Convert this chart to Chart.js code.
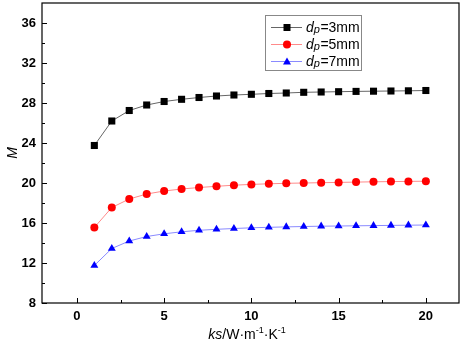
<!DOCTYPE html>
<html>
<head>
<meta charset="utf-8">
<script src="https://cdn.jsdelivr.net/npm/chart.js@4"></script>
<style>
  html, body { margin: 0; padding: 0; background: #fff; }
  #wrap { width: 462px; height: 345px; }
</style>
</head>
<body>
<div id="wrap"><canvas id="chart" width="462" height="345"></canvas></div>
<script>
// --- data ---
const ks = [1,2,3,4,5,6,7,8,9,10,11,12,13,14,15,16,17,18,19,20];
const m3 = [23.75,26.2,27.25,27.8,28.15,28.37,28.55,28.7,28.8,28.87,28.95,29.0,29.07,29.1,29.13,29.16,29.18,29.2,29.22,29.25];
const m5 = [15.55,17.55,18.4,18.9,19.2,19.4,19.55,19.67,19.78,19.86,19.92,19.97,20.0,20.03,20.06,20.09,20.12,20.14,20.16,20.18];
const m7 = [11.75,13.45,14.2,14.65,14.92,15.12,15.27,15.37,15.45,15.52,15.57,15.61,15.65,15.68,15.7,15.72,15.74,15.76,15.78,15.8];
const labels = ["3mm","5mm","7mm"];
const xTicks = [0,5,10,15,20];
const xMinor = [2.5,7.5,12.5,17.5];
const yTicks = [8,12,16,20,24,28,32,36];
const yMinor = [10,14,18,22,26,30,34];

const FONT = '"Liberation Sans", Arial, sans-serif';

function pts(arr){ return ks.map((k,i)=>({x:k, y:arr[i]})); }

// --- frame, inward ticks, titles, legend ---
const decor = {
  id: "decor",
  afterDraw(chart){
    const ctx = chart.ctx, a = chart.chartArea;
    const xs = chart.scales.x, ys = chart.scales.y;
    ctx.save();
    ctx.strokeStyle = "#000";
    ctx.lineWidth = 1.2;
    ctx.strokeRect(a.left, a.top, a.right-a.left, a.bottom-a.top);

    ctx.lineWidth = 1;
    ctx.beginPath();
    xTicks.forEach(v=>{ const p = Math.round(xs.getPixelForValue(v))+0.5; ctx.moveTo(p,a.bottom); ctx.lineTo(p,a.bottom-5); });
    xMinor.forEach(v=>{ const p = Math.round(xs.getPixelForValue(v))+0.5; ctx.moveTo(p,a.bottom); ctx.lineTo(p,a.bottom-3); });
    yTicks.forEach(v=>{ const p = Math.round(ys.getPixelForValue(v))+0.5; ctx.moveTo(a.left,p); ctx.lineTo(a.left+5,p); });
    yMinor.forEach(v=>{ const p = Math.round(ys.getPixelForValue(v))+0.5; ctx.moveTo(a.left,p); ctx.lineTo(a.left+3,p); });
    ctx.stroke();

    // y title
    ctx.fillStyle = "#000";
    ctx.save();
    ctx.translate(17, (a.top+a.bottom)/2);
    ctx.rotate(-Math.PI/2);
    ctx.font = "italic 14px " + FONT;
    ctx.textAlign = "center";
    ctx.textBaseline = "alphabetic";
    ctx.fillText("M", 0, 0);
    ctx.restore();

    // x title: ks/W·m-1·K-1
    const parts = [
      {t:"ks", f:"italic 14px "+FONT, dy:0},
      {t:"/W\u00B7m", f:"14px "+FONT, dy:0},
      {t:"-1", f:"9px "+FONT, dy:-6},
      {t:"\u00B7K", f:"14px "+FONT, dy:0},
      {t:"-1", f:"9px "+FONT, dy:-6}
    ];
    let w = 0;
    parts.forEach(p=>{ ctx.font = p.f; p.w = ctx.measureText(p.t).width; w += p.w; });
    let x = 247 - w/2;
    ctx.textAlign = "left";
    parts.forEach(p=>{ ctx.font = p.f; ctx.fillText(p.t, x, 339+p.dy); x += p.w; });

    // legend
    ctx.strokeStyle = "#888";
    ctx.lineWidth = 1;
    ctx.strokeRect(265.5, 15.5, 96, 55);
    const rows = [27, 44, 61];
    chart.data.datasets.forEach((ds,i)=>{
      const y = rows[i];
      ctx.strokeStyle = ds.borderColor;
      ctx.beginPath(); ctx.moveTo(271,y+0.5); ctx.lineTo(302,y+0.5); ctx.stroke();
      ctx.fillStyle = ds.pointBackgroundColor;
      ctx.beginPath();
      if(ds.pointStyle==="rect") ctx.rect(283.5,y-3,7,7);
      else if(ds.pointStyle==="circle") ctx.arc(287,y+0.5,4,0,Math.PI*2);
      else { ctx.moveTo(287,y-3.5); ctx.lineTo(291,y+3.5); ctx.lineTo(283,y+3.5); ctx.closePath(); }
      ctx.fill();
      ctx.fillStyle = "#000";
      let tx = 306;
      ctx.font = "italic 14px "+FONT; ctx.fillText("d", tx, y+5); tx += ctx.measureText("d").width;
      ctx.font = "italic 11px "+FONT; ctx.fillText("p", tx, y+6); tx += ctx.measureText("p").width + 0.5;
      ctx.font = "14px "+FONT; ctx.fillText("=" + labels[i], tx, y+5);
    });
    ctx.restore();
  }
};

new Chart(document.getElementById("chart"), {
  type: "line",
  data: {
    datasets: [
      {label:"dp=3mm", data:pts(m3), borderColor:"#666", borderWidth:1, pointStyle:"rect", pointRadius:5,
       pointBackgroundColor:"#000", pointBorderColor:"#000", pointBorderWidth:0},
      {label:"dp=5mm", data:pts(m5), borderColor:"#ff8a8a", borderWidth:1, pointStyle:"circle", pointRadius:4,
       pointBackgroundColor:"#ff0000", pointBorderColor:"#ff0000", pointBorderWidth:0},
      {label:"dp=7mm", data:pts(m7), borderColor:"#8a8aff", borderWidth:1, pointStyle:"triangle", pointRadius:4.6,
       pointBackgroundColor:"#0000ff", pointBorderColor:"#0000ff", pointBorderWidth:0}
    ]
  },
  options: {
    responsive: false,
    animation: false,
    layout: { autoPadding: false, padding: { top: 3, right: 3, left: 0, bottom: 0 } },
    plugins: { legend: { display: false }, tooltip: { enabled: false } },
    scales: {
      x: {
        type: "linear", min: -2, max: 21.9,
        grid: { display: false, drawTicks: false },
        border: { display: false },
        afterFit(s){ s.height = 42; s.paddingLeft = 0; s.paddingRight = 0; },
        afterBuildTicks(s){ s.ticks = xTicks.map(v=>({value:v})); },
        ticks: { padding: 6, color: "#000", font: { family: FONT, size: 13, weight: "bold" } }
      },
      y: {
        min: 8, max: 38,
        grid: { display: false, drawTicks: false },
        border: { display: false },
        afterFit(s){ s.width = 42; s.paddingTop = 0; s.paddingBottom = 0; },
        afterBuildTicks(s){ s.ticks = yTicks.map(v=>({value:v})); },
        ticks: { padding: 6, color: "#000", font: { family: FONT, size: 13, weight: "bold" } }
      }
    }
  },
  plugins: [decor]
});
</script>
</body>
</html>
